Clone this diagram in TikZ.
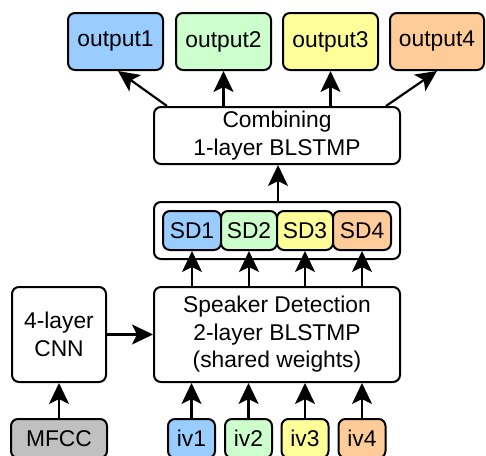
\documentclass[tikz,border=0pt]{standalone}
\usepackage{fontspec}
\setmainfont{Liberation Sans}
\usetikzlibrary{arrows.meta,positioning}
\definecolor{cblue}{HTML}{99CCFF}
\definecolor{cgreen}{HTML}{CCFFCC}
\definecolor{cyellow}{HTML}{FFFF99}
\definecolor{corange}{HTML}{FFCC99}
\definecolor{cgray}{HTML}{C0C0C0}
\begin{document}
\begin{tikzpicture}[x=1pt,y=-1pt,
  box/.style={draw=black, line width=2pt, rounded corners=7pt, fill=white, inner sep=0pt,
     align=center, font=\fontsize{22.8}{27.5}\selectfont},
  arr/.style={line width=2.2pt, -{Stealth[length=21pt,width=20pt,inset=5pt]}}]
\useasboundingbox (0,0) rectangle (486,455);
\begin{scope}
\clip (0,0) rectangle (486,455);
% outputs
\node[box, fill=cblue, minimum width=95pt, minimum height=57pt] (o1) at (115.5,41.5) {output1};
\node[box, fill=cgreen, minimum width=95pt, minimum height=57pt] (o2) at (223.5,41.5) {output2};
\node[box, fill=cyellow, minimum width=95pt, minimum height=57pt] (o3) at (330.5,41.5) {output3};
\node[box, fill=corange, minimum width=94pt, minimum height=57pt] (o4) at (437,41.5) {output4};
% combining
\node[box, minimum width=246pt, minimum height=57pt] (comb) at (277,135.5) {Combining\\1-layer BLSTMP};
% SD container
\node[box, minimum width=246pt, minimum height=57pt] (sdc) at (277,230.5) {};
\node[box, fill=cblue, minimum width=58pt, minimum height=39pt] (sd1) at (192,230.5) {SD1};
\node[box, fill=cgreen, minimum width=56pt, minimum height=39pt] (sd2) at (249,230.5) {SD2};
\node[box, fill=cyellow, minimum width=56pt, minimum height=39pt] (sd3) at (305,230.5) {SD3};
\node[box, fill=corange, minimum width=58pt, minimum height=39pt] (sd4) at (362,230.5) {SD4};
% speaker detection
\node[box, minimum width=246pt, minimum height=95pt] (spk) at (277,334.5) {Speaker Detection\\2-layer BLSTMP\\(shared weights)};
\node[box, minimum width=94pt, minimum height=95pt] (cnn) at (59,334.5) {4-layer\\CNN};
% inputs
\node[box, fill=cgray, minimum width=96pt, minimum height=39pt] (mfcc) at (59,438.5) {MFCC};
\node[box, fill=cblue, minimum width=47pt, minimum height=39pt] (iv1) at (191.5,438.5) {iv1};
\node[box, fill=cgreen, minimum width=47pt, minimum height=39pt] (iv2) at (248.5,438.5) {iv2};
\node[box, fill=cyellow, minimum width=47pt, minimum height=39pt] (iv3) at (305,438.5) {iv3};
\node[box, fill=corange, minimum width=47pt, minimum height=39pt] (iv4) at (362,438.5) {iv4};
\end{scope}
% arrows
\draw[arr] ([xshift=14pt]comb.north west) -- ([xshift=2.5pt]o1.south);
\draw[arr] (comb.north -| o2.south) -- (o2.south);
\draw[arr] (comb.north -| o3.south) -- (o3.south);
\draw[arr] ([xshift=-15pt]comb.north east) -- (o4.south);
\draw[arr] ([xshift=1pt]sdc.north) -- ([xshift=1pt]comb.south);
\draw[arr] (spk.north -| sd1.south) -- (sd1.south);
\draw[arr] (spk.north -| sd2.south) -- (sd2.south);
\draw[arr] (spk.north -| sd3.south) -- (sd3.south);
\draw[arr] (spk.north -| sd4.south) -- (sd4.south);
\draw[arr] (cnn.east) -- (cnn.east -| spk.west);
\draw[arr] (mfcc.north) -- (mfcc.north |- cnn.south);
\draw[arr] (iv1.north) -- (iv1.north |- spk.south);
\draw[arr] (iv2.north) -- (iv2.north |- spk.south);
\draw[arr] (iv3.north) -- (iv3.north |- spk.south);
\draw[arr] (iv4.north) -- (iv4.north |- spk.south);
\end{tikzpicture}
\end{document}
